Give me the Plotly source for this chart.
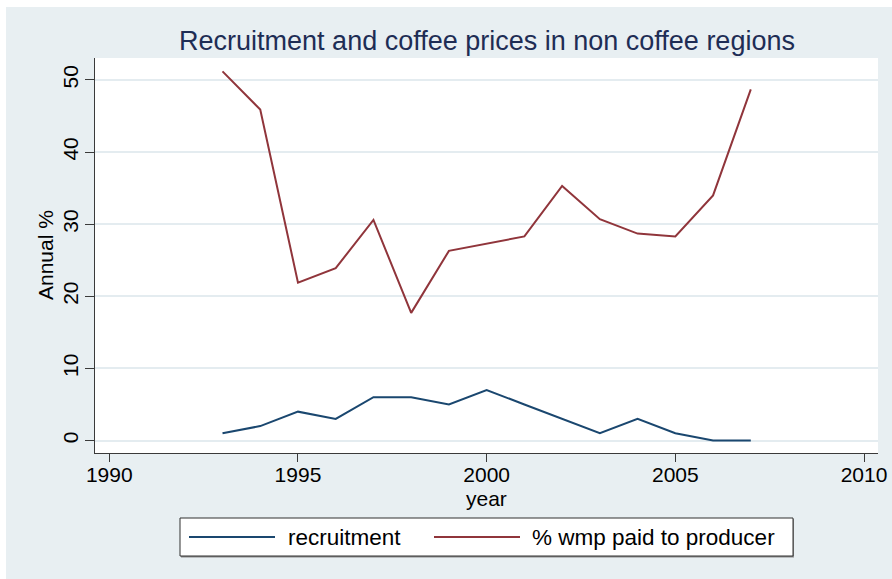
import plotly.graph_objects as go

years = [1993, 1994, 1995, 1996, 1997, 1998, 1999, 2000, 2001, 2002, 2003, 2004, 2005, 2006, 2007]
recruitment = [1, 2, 4, 3, 6, 6, 5, 7, 5, 3, 1, 3, 1, 0, 0]
wmp_paid = [51.2, 45.9, 21.9, 23.9, 30.6, 17.7, 26.3, 27.3, 28.3, 35.3, 30.7, 28.7, 28.3, 34.0, 48.7]

series_names = ["recruitment", "% wmp paid to producer"]
series_colors = ["#1a476f", "#90353b"]

x_ticks = [1990, 1995, 2000, 2005, 2010]
y_ticks = [0, 10, 20, 30, 40, 50]

title_text = "Recruitment and coffee prices in non coffee regions"
x_title = "year"
y_title = "Annual %"

W, H = 892, 579
L, R, T, B = 95, 878, 58, 453  # plot area in pixels


def px(x):
    return (x - L) / (R - L)


def py(y):
    return (B - y) / (B - T)


FONT = "Liberation Sans, Arial, sans-serif"
BG = "#e8eff2"
GRID = "#e4ecf0"
AXIS = "#3a3a3a"

fig = go.Figure()
for vals, name, col in zip([recruitment, wmp_paid], series_names, series_colors):
    fig.add_trace(go.Scatter(x=years, y=vals, mode="lines", name=name,
                             line=dict(color=col, width=2), showlegend=False))

shapes = [
    # white outer border strips (top and left)
    dict(type="rect", xref="paper", yref="paper", x0=px(0), x1=px(892), y0=py(7), y1=py(0),
         fillcolor="white", line=dict(width=0), layer="below"),
    dict(type="rect", xref="paper", yref="paper", x0=px(0), x1=px(6), y0=py(579), y1=py(0),
         fillcolor="white", line=dict(width=0), layer="below"),
    # legend shadow + box
    dict(type="rect", xref="paper", yref="paper", x0=px(181), x1=px(794), y0=py(519), y1=py(557.5),
         fillcolor="#8a8a8a", line=dict(width=0), layer="above"),
    dict(type="rect", xref="paper", yref="paper", x0=px(180), x1=px(793), y0=py(518), y1=py(556),
         fillcolor="white", line=dict(color="#303030", width=1), layer="above"),
    # legend line samples
    dict(type="line", xref="paper", yref="paper", x0=px(189), x1=px(275), y0=py(537), y1=py(537),
         line=dict(color=series_colors[0], width=2), layer="above"),
    dict(type="line", xref="paper", yref="paper", x0=px(434), x1=px(520), y0=py(537), y1=py(537),
         line=dict(color=series_colors[1], width=2), layer="above"),
]

annotations = [
    dict(text=series_names[0], xref="paper", yref="paper", x=px(287), y=py(537), xanchor="left",
         yanchor="middle", showarrow=False, borderpad=0,
         font=dict(family=FONT, size=22.5, color="black")),
    dict(text=series_names[1], xref="paper", yref="paper", x=px(531), y=py(537), xanchor="left",
         yanchor="middle", showarrow=False, borderpad=0,
         font=dict(family=FONT, size=22.5, color="black")),
    dict(text=x_title, xref="paper", yref="paper", x=px(486.5), y=py(498), xanchor="center",
         yanchor="middle", showarrow=False, borderpad=0,
         font=dict(family=FONT, size=21, color="black")),
    dict(text=y_title, xref="paper", yref="paper", x=px(45), y=py(255), xanchor="center",
         yanchor="middle", showarrow=False, borderpad=0, textangle=-90,
         font=dict(family=FONT, size=21, color="black")),
]

fig.update_layout(
    width=W, height=H,
    margin=dict(l=L, r=W - R, t=T, b=H - B, pad=0, autoexpand=False),
    paper_bgcolor=BG,
    plot_bgcolor="white",
    title=dict(text=title_text, x=487 / W, xanchor="center",
               y=1 - 41 / H, yanchor="middle", yref="container",
               font=dict(family=FONT, size=27, color="#1e2d55")),
    shapes=shapes,
    annotations=annotations,
    showlegend=False,
    xaxis=dict(range=[1989.621, 2010.371], tickvals=x_ticks, ticktext=[str(v) for v in x_ticks],
               automargin=False, ticklabelstandoff=-5,
               showgrid=False, zeroline=False, showline=True, linecolor=AXIS, linewidth=1.3,
               ticks="outside", ticklen=8, tickwidth=1.3, tickcolor=AXIS,
               tickfont=dict(family=FONT, size=21, color="black")),
    yaxis=dict(range=[-1.734, 53.05], tickvals=y_ticks, ticktext=[str(v) for v in y_ticks],
               automargin=False, ticklabelstandoff=-2,
               showgrid=True, gridcolor=GRID, gridwidth=1.6, zeroline=False,
               showline=True, linecolor=AXIS, linewidth=1.3,
               ticks="outside", ticklen=9, tickwidth=1.3, tickcolor=AXIS, tickangle=-90,
               tickfont=dict(family=FONT, size=21, color="black")),
)

fig.write_html("out.html", config={"displayModeBar": False},
               post_script="document.body.style.margin='0';")
